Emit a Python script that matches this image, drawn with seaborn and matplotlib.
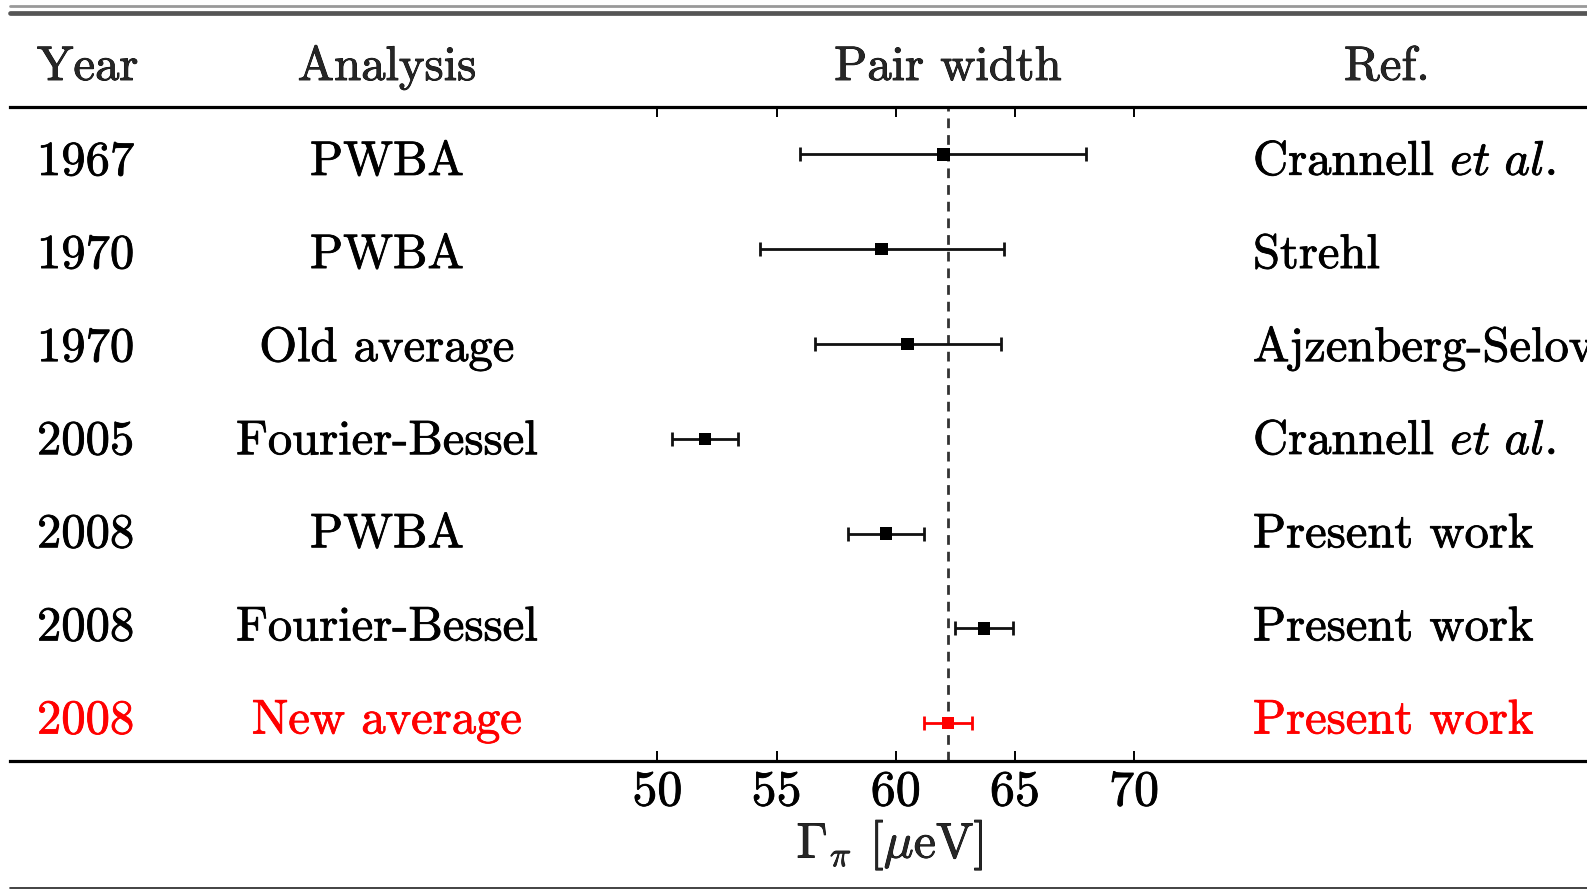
import pandas as pd
import matplotlib.pyplot as plt
import matplotlib.patheffects as pe
from matplotlib.lines import Line2D
import seaborn as sns

# Table rows (top to bottom)
years = ['1967', '1970', '1970', '2005', '2008', '2008', '2008']
analysis = ['PWBA', 'PWBA', 'Old average', 'Fourier-Bessel', 'PWBA', 'Fourier-Bessel', 'New average']
refs = [r'Crannell $\mathit{et\ al.}$', 'Strehl', 'Ajzenberg-Selove',
        r'Crannell $\mathit{et\ al.}$', 'Present work', 'Present work', 'Present work']
widths = [62.0, 59.4, 60.5, 52.0, 59.6, 63.7, 62.2]
err_lo = [6.0, 5.1, 3.9, 1.4, 1.6, 1.2, 1.0]
err_hi = [6.0, 5.15, 3.9, 1.4, 1.6, 1.2, 1.0]
highlight = [False, False, False, False, False, False, True]
new_average = 62.2
xticks = [50, 55, 60, 65, 70]

df = pd.DataFrame({'row': range(len(years)), 'width': widths,
                   'lo': err_lo, 'hi': err_hi, 'new': highlight})

sns.set_style('white')
plt.rcParams['font.family'] = ['cmr10', 'DejaVu Serif']
plt.rcParams['mathtext.fontset'] = 'cm'
plt.rcParams['axes.unicode_minus'] = False

W, H = 1587, 889
fig = plt.figure(figsize=(W / 100, H / 100), dpi=100)
ax = fig.add_axes([10 / W, 1 - 761 / H, 1 - 10 / W, (761 - 107) / H])

fs = 35
red = '#ff0000'
thick = [pe.withStroke(linewidth=0.6, foreground='black')]
thick_red = [pe.withStroke(linewidth=0.6, foreground=red)]

# error bars
for _, r in df.iterrows():
    c = red if r['new'] else '#111111'
    ax.errorbar(r['width'], r['row'], xerr=[[r['lo']], [r['hi']]], fmt='none',
                ecolor=c, elinewidth=2.0, capsize=5, capthick=2.0, zorder=3)

sns.scatterplot(data=df, x='width', y='row', hue='new', palette={False: 'black', True: red},
                marker='s', s=80, edgecolor='none', legend=False, ax=ax, zorder=4)

ax.axvline(new_average, color='#333333', lw=2.0, linestyle=(0, (3.5, 2.5)), zorder=2)

ax.set_xlim(22.84, 89.0)
ax.set_ylim(6.4, -0.5)
ax.set_xticks(xticks)
ax.set_yticks([])
ax.set_ylabel('')
ax.tick_params(axis='x', direction='in', top=True, bottom=True, length=7, width=1.4,
               labelsize=36, pad=6, colors='black')
for lab in ax.get_xticklabels():
    lab.set_path_effects(thick)
for s in ['left', 'right']:
    ax.spines[s].set_visible(False)
for s in ['top', 'bottom']:
    ax.spines[s].set_linewidth(2.3)
    ax.spines[s].set_color('black')

ax.set_xlabel(r'$\Gamma_\pi$ [$\mu$eV]', fontsize=36)
ax.xaxis.set_label_coords((890 - 10) / 1577, -0.085)
ax.xaxis.label.set_va('top')
ax.xaxis.label.set_path_effects(thick)

# table text (text rows sit on a slightly tighter pitch than the markers)
tr = ax.get_yaxis_transform()
for i in range(len(years)):
    c = red if highlight[i] else 'black'
    eff = thick_red if highlight[i] else thick
    yb = i * 0.982 + 0.217
    ax.text((37 - 10) / 1577, yb, years[i], transform=tr, fontsize=fs, color=c, va='baseline', ha='left',
            path_effects=eff)
    ax.text((387 - 10) / 1577, yb, analysis[i], transform=tr, fontsize=fs, color=c, va='baseline', ha='center',
            path_effects=eff)
    ax.text((1253 - 10) / 1577, yb, refs[i], transform=tr, fontsize=fs, color=c, va='baseline', ha='left',
            clip_on=False, path_effects=eff)

hy = (761 - 80) / 654
for xp, txt, ha in [(37, 'Year', 'left'), (387, 'Analysis', 'center'),
                    (948, 'Pair width', 'center'), (1387, 'Ref.', 'center')]:
    ax.text((xp - 10) / 1577, hy, txt, transform=ax.transAxes, fontsize=fs, va='baseline', ha=ha,
            path_effects=thick)

# table rules
x0 = 10 / W
fig.add_artist(Line2D([x0, 1], [1 - 5.5 / H] * 2, color='#999999', lw=2.0))
fig.add_artist(Line2D([x0, 1], [1 - 12.5 / H] * 2, color='#555555', lw=3.4))
fig.add_artist(Line2D([x0, 1], [1 - 887.5 / H] * 2, color='#222222', lw=1.2))

fig.savefig('out.png', dpi=100)
